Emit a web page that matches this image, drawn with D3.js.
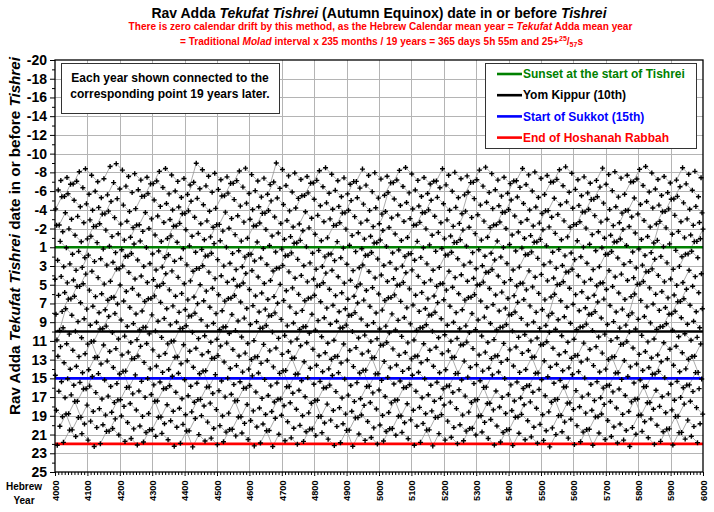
<!DOCTYPE html>
<html><head><meta charset="utf-8">
<script src="https://cdn.jsdelivr.net/npm/d3@7"></script>
<style>
body{margin:0;background:#fff}
svg text{font-family:"Liberation Sans",Arial,sans-serif;font-weight:bold}
</style>
</head><body>
<svg id="chart" width="714" height="512"></svg>
<script>
// ---- data ----
const yearRange = [4000, 6000];                 // every Hebrew year 4000..6000 is plotted
const connectStep = [19];                        // each year joined to the point 19 years later
const xTickYears = [4000,4100,4200,4300,4400,4500,4600,4700,4800,4900,5000,5100,5200,5300,5400,5500,5600,5700,5800,5900,6000];
const yTickValues = [-20,-18,-16,-14,-12,-10,-8,-6,-4,-2,0,2,4,6,8,10,12,14,16,18,20,22,24];
const yTickLabels = ["-20","-18","-16","-14","-12","-10","-8","-6","-4","-2","1","3","5","7","9","11","13","15","17","19","21","23","25"];
const refValues = [0, 9, 14, 21];               // days after the sunset that starts 1 Tishrei
const refLabels = ["Sunset at the start of Tishrei","Yom Kippur (10th)","Start of Sukkot (15th)","End of Hoshanah Rabbah"];
const refColors = ["#008000","#000000","#0000ff","#ff0000"];
// Hebrew calendar constants, in chalakim (1080 per hour)
const partsPerDay = [25920];
const moladMonth = [765433];        // 29d 12h 793p
const moladBaharad = [31524];       // molad Tishrei year 1: day 1, 5h 204p
const addaNisanLead = [10362];      // Rav Adda: tekufat Nisan 9h 642p before molad Nisan of year 1
const dehiyyaParts = [19440, 9924, 16789];

// ---- Rav Adda tekufat Tishrei relative to 1 Tishrei ----
const DAY = partsPerDay[0], MONTH = moladMonth[0];
function isLeap(y){ return ((7*y+1) % 19) < 7; }
function molad(y){ return moladBaharad[0] + Math.floor((235*y-234)/19)*MONTH; }
function roshHashanahDay(y){
  const m = molad(y);
  let day = Math.floor(m/DAY); const parts = m % DAY; const dow = day % 7;
  if (parts >= dehiyyaParts[0] || (dow===2 && parts>=dehiyyaParts[1] && !isLeap(y)) || (dow===1 && parts>=dehiyyaParts[2] && isLeap(y-1))) day++;
  if ([0,3,5].includes(day % 7)) day++;
  return day;
}
function tekufaOffset(y){
  const tt38 = 38*(moladBaharad[0] + 6*MONTH - addaNisanLead[0]) + (y-1)*470*MONTH - 235*MONTH;
  return (tt38 - 38*DAY*roshHashanahDay(y)) / (38*DAY);
}
const years = d3.range(yearRange[0], yearRange[1]+1);
const points = years.map(y => ({year:y, value:tekufaOffset(y)}));

// ---- drawing ----
const svg = d3.select("#chart");
const L=55, R=703, T=60, B=472;
const x = d3.scaleLinear().domain(yearRange).range([L,R]);
const y = d3.scaleLinear().domain([yTickValues[0], yTickValues[yTickValues.length-1]]).range([T,B]);

svg.append("rect").attr("width",714).attr("height",512).attr("fill","#fff");

const grid = svg.append("g").attr("stroke","#b4b4b4").attr("stroke-width",1);
grid.selectAll("line.v").data(xTickYears.slice(1,-1)).join("line")
  .attr("x1",d=>Math.round(x(d))+0.5).attr("x2",d=>Math.round(x(d))+0.5).attr("y1",T).attr("y2",B);
grid.selectAll("line.h").data(yTickValues.slice(1,-1)).join("line")
  .attr("y1",d=>Math.round(y(d))+0.5).attr("y2",d=>Math.round(y(d))+0.5).attr("x1",L).attr("x2",R);

const byResidue = d3.groups(points, p => p.year % connectStep[0]);
const line = d3.line().x(p=>x(p.year)).y(p=>y(p.value));
svg.append("g").selectAll("path").data(byResidue).join("path")
  .attr("d", g => line(g[1])).attr("fill","none").attr("stroke","#969696").attr("stroke-width",0.8);

svg.append("g").selectAll("line").data(refValues).join("line")
  .attr("x1",L).attr("x2",R).attr("y1",d=>y(d)).attr("y2",d=>y(d))
  .attr("stroke",(d,i)=>refColors[i]).attr("stroke-width",2.6);

svg.append("g").selectAll("path").data(points).join("path")
  .attr("d", p => { const cx=x(p.year), cy=y(p.value); return `M${cx-2.5},${cy}h5M${cx},${cy-2.5}v5`; })
  .attr("stroke","#000").attr("stroke-width",1.4).attr("fill","none");

svg.append("rect").attr("x",L).attr("y",T).attr("width",R-L).attr("height",B-T)
  .attr("fill","none").attr("stroke","#000").attr("stroke-width",1.3);

const yAxis = svg.append("g").attr("transform",`translate(${L},0)`)
  .call(d3.axisLeft(y).tickValues(yTickValues).tickFormat((d,i)=>yTickLabels[i]).tickSize(5).tickPadding(3));
yAxis.select(".domain").remove();
yAxis.selectAll("text").attr("font-size",14).attr("fill","#000");
const yMinor = svg.append("g").attr("transform",`translate(${L},0)`)
  .call(d3.axisLeft(y).tickValues(d3.range(-19,24,2)).tickFormat("").tickSize(3));
yMinor.select(".domain").remove();

const xAxis = svg.append("g").attr("transform",`translate(0,${B})`)
  .call(d3.axisBottom(x).tickValues(xTickYears).tickFormat(d3.format("d")).tickSize(4).tickPadding(3));
xAxis.select(".domain").remove();
xAxis.selectAll("text").attr("font-size",9.2).attr("fill","#000")
  .attr("transform","rotate(-90)").attr("text-anchor","end").attr("x",-8.5).attr("y",0).attr("dy","0.35em");
const xMinor = svg.append("g").attr("transform",`translate(0,${B})`)
  .call(d3.axisBottom(x).tickValues(d3.range(4010,6000,10).filter(v=>v%100)).tickFormat("").tickSize(3));
xMinor.select(".domain").remove();

const yt = svg.append("text").attr("transform","translate(19.5,236) rotate(-90)").attr("text-anchor","middle").attr("font-size",15.2);
yt.append("tspan").text("Rav Adda ");
yt.append("tspan").attr("font-style","italic").text("Tekufat Tishrei");
yt.append("tspan").text(" date in or before ");
yt.append("tspan").attr("font-style","italic").text("Tishrei");
svg.append("text").attr("x",24).attr("y",490).attr("text-anchor","middle").attr("font-size",10).text("Hebrew");
svg.append("text").attr("x",24).attr("y",504).attr("text-anchor","middle").attr("font-size",10).text("Year");

const t1 = svg.append("text").attr("x",379).attr("y",17.5).attr("text-anchor","middle").attr("font-size",14);
t1.append("tspan").text("Rav Adda ");
t1.append("tspan").attr("font-style","italic").text("Tekufat Tishrei");
t1.append("tspan").text("  (Autumn Equinox) date in or before ");
t1.append("tspan").attr("font-style","italic").text("Tishrei");
const t2 = svg.append("text").attr("x",380.5).attr("y",29.5).attr("text-anchor","middle").attr("font-size",10.1).attr("fill","#ff0000");
t2.append("tspan").text("There is zero calendar drift by this method, as the Hebrew Calendar mean year = ");
t2.append("tspan").attr("font-style","italic").text("Tekufat");
t2.append("tspan").text(" Adda mean year");
const t3 = svg.append("text").attr("x",381.5).attr("y",44.5).attr("text-anchor","middle").attr("font-size",10.1).attr("fill","#ff0000");
t3.append("tspan").text("= Traditional ");
t3.append("tspan").attr("font-style","italic").text("Molad");
t3.append("tspan").text(" interval x 235 months / 19 years = 365 days 5h 55m and 25+");
t3.append("tspan").attr("font-size",7).attr("dy",-4).text("25");
t3.append("tspan").attr("dy",4).text("/");
t3.append("tspan").attr("font-size",7).attr("dy",2).text("57");
t3.append("tspan").attr("dy",-2).text("s");

svg.append("rect").attr("x",61.5).attr("y",63.5).attr("width",218).attr("height",50).attr("fill","#fff").attr("stroke","#333");
svg.append("text").attr("x",170).attr("y",81.5).attr("text-anchor","middle").attr("font-size",12).text("Each year shown connected to the");
svg.append("text").attr("x",170).attr("y",98).attr("text-anchor","middle").attr("font-size",12).text("corresponding point 19 years later.");

svg.append("rect").attr("x",485.5).attr("y",63.5).attr("width",211).attr("height",85).attr("fill","#fff").attr("stroke","#333");
const lg = svg.append("g").selectAll("g").data(refLabels).join("g").attr("transform",(d,i)=>`translate(497,${74+i*21.2})`);
lg.append("line").attr("x1",0).attr("x2",25).attr("stroke",(d,i)=>refColors[i]).attr("stroke-width",2.6);
lg.append("text").attr("x",26).attr("dy","0.35em").attr("font-size",12).attr("fill",(d,i)=>refColors[i]).text(d=>d);
</script>
</body></html>
